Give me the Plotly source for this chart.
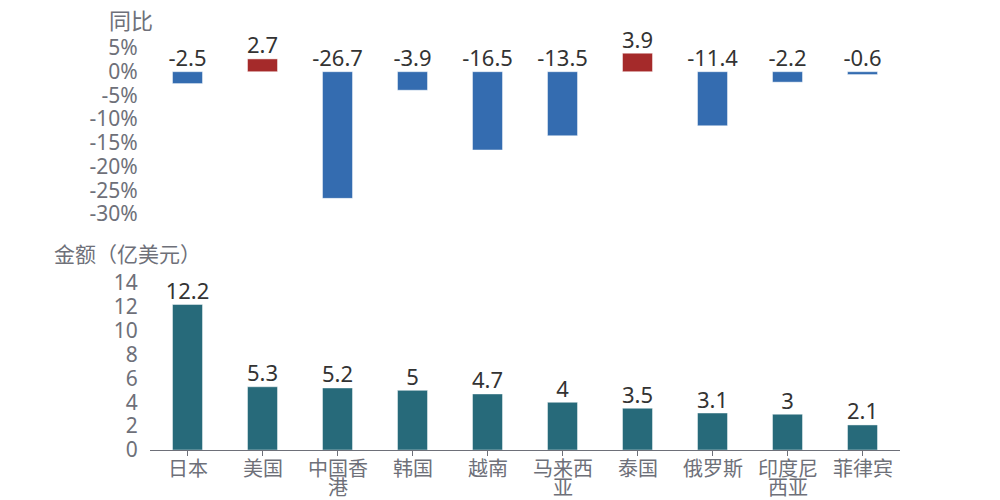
import plotly.graph_objects as go
from plotly.subplots import make_subplots

categories = ["日本", "美国", "中国香港", "韩国", "越南", "马来西亚",
              "泰国", "俄罗斯", "印度尼西亚", "菲律宾"]
yoy = [-2.5, 2.7, -26.7, -3.9, -16.5, -13.5, 3.9, -11.4, -2.2, -0.6]
amount = [12.2, 5.3, 5.2, 5, 4.7, 4, 3.5, 3.1, 3, 2.1]

yoy_ticks = [5, 0, -5, -10, -15, -20, -25, -30]
amount_ticks = [0, 2, 4, 6, 8, 10, 12, 14]

font_num = "Noto Sans, Noto Sans CJK SC, sans-serif"
tick_grey = "#6e7079"
label_dark = "#333333"

fig = make_subplots(rows=2, cols=1, shared_xaxes=False, vertical_spacing=0.05)

# top: year on year change
yoy_colors = ["#a52a2a" if v > 0 else "#346cb0" for v in yoy]
fig.add_trace(go.Bar(x=categories, y=yoy, width=0.4,
                     marker=dict(color=yoy_colors,
                                 line=dict(color="rgba(255,255,255,0.45)", width=1)),
                     hoverinfo="x+y"), row=1, col=1)
fig.add_trace(go.Scatter(x=categories, y=[max(v, 0) for v in yoy],
                         mode="text", text=[str(v) for v in yoy],
                         textposition="top center",
                         textfont=dict(size=22, color=label_dark),
                         cliponaxis=False, hoverinfo="skip"), row=1, col=1)

# bottom: amount
fig.add_trace(go.Bar(x=categories, y=amount, width=0.4,
                     marker=dict(color="#276a7a",
                                 line=dict(color="rgba(255,255,255,0.45)", width=1)),
                     hoverinfo="x+y"), row=2, col=1)
fig.add_trace(go.Scatter(x=categories, y=amount, mode="text",
                         text=[str(v) for v in amount],
                         textposition="top center",
                         textfont=dict(size=22, color=label_dark),
                         cliponaxis=False, hoverinfo="skip"), row=2, col=1)

fig.update_layout(
    width=1000, height=500,
    margin=dict(l=0, r=0, t=0, b=0, autoexpand=False),
    paper_bgcolor="white", plot_bgcolor="white",
    showlegend=False,
    font=dict(family=font_num, color=tick_grey),
    bargap=0.6,
)

fig.update_xaxes(domain=[0.142, 0.892], automargin=False)
fig.update_xaxes(row=1, col=1, showticklabels=False, showline=False,
                 ticks="", showgrid=False, zeroline=False)
fig.update_xaxes(row=2, col=1, showline=True, linecolor="#6e7079", linewidth=1,
                 ticks="outside", ticklen=5, tickcolor="#6e7079",
                 showgrid=False, showticklabels=False)

fig.update_yaxes(automargin=False, ticks="outside", ticklen=7,
                 tickcolor="rgba(0,0,0,0)")
fig.update_yaxes(row=1, col=1, domain=[0.588, 0.92], range=[-30, 5],
                 tickvals=yoy_ticks, ticktext=[f"{t}%" for t in yoy_ticks],
                 showgrid=False, zeroline=False, showline=False,
                 tickfont=dict(size=21, color=tick_grey))
fig.update_yaxes(row=2, col=1, domain=[0.116, 0.45], range=[0, 14],
                 tickvals=amount_ticks, showgrid=False, zeroline=False,
                 showline=False, tickfont=dict(size=21, color=tick_grey))

# category labels, wrapped after 3 characters with tight line spacing
for name in categories:
    for i, part in enumerate([name[:3], name[3:]]):
        if not part:
            continue
        fig.add_annotation(text=part, xref="x2", yref="paper", x=name,
                           y=0.082 - i * 0.039, yanchor="middle",
                           showarrow=False,
                           font=dict(size=20, color=tick_grey,
                                     family="Noto Sans CJK SC"))

fig.add_annotation(text="同比", xref="paper", yref="paper", x=0.099, y=1.014,
                   xanchor="left", yanchor="top", showarrow=False,
                   font=dict(size=22, color=tick_grey, family="Noto Sans CJK SC"))
fig.add_annotation(text="金额（亿美元）", xref="paper", yref="paper", x=0.044, y=0.543,
                   xanchor="left", yanchor="top", showarrow=False,
                   font=dict(size=21, color=tick_grey, family="Noto Sans CJK SC"))

fig.write_html("out.html")
